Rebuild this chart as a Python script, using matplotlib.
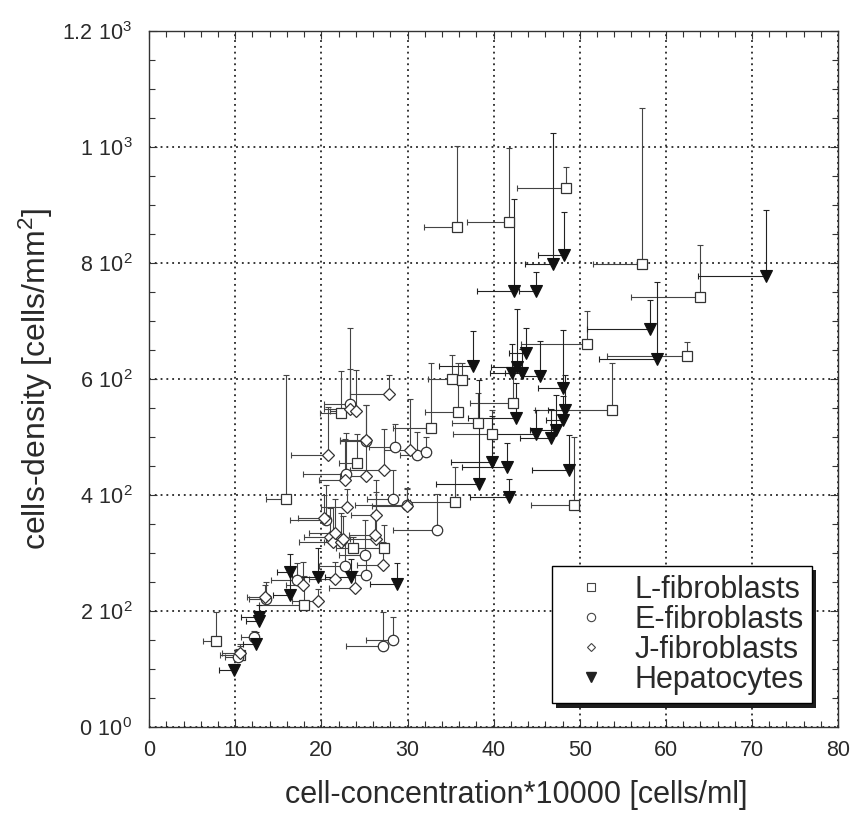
import matplotlib
matplotlib.use("Agg")
import matplotlib.pyplot as plt
import matplotlib.patheffects as pe
from matplotlib.ticker import MultipleLocator

plt.rcParams["font.family"] = ["Liberation Sans", "DejaVu Sans"]
plt.rcParams["mathtext.fontset"] = "custom"
plt.rcParams["mathtext.rm"] = "Liberation Sans"

# L-fibroblasts (open squares)
lx = [7.8, 10.5, 15.9, 18.0, 22.3, 24.1, 23.7, 27.3, 32.7, 35.2, 36.3, 35.9, 35.5,
      38.2, 42.3, 39.8, 35.8, 41.8, 48.4, 57.2, 64.0, 50.8, 62.4, 53.7, 49.3]
ly = [149, 124, 393, 210, 541, 455, 308, 308, 515, 600, 598, 544, 388,
      524, 558, 506, 862, 870, 930, 798, 741, 660, 640, 547, 383]
lxe = [1.6, 2.3, 2.3, 5.2, 2.5, 2.0, 2.0, 3.0, 4.4, 2.8, 1.5, 3.9, 5.2,
       3.0, 5.1, 4.5, 3.9, 4.9, 5.7, 5.7, 8.1, 7.6, 9.2, 8.9, 5.0]
lye = [50, 15, 214, 50, 73, 50, 20, 40, 112, 41, 30, 84, 60,
       52, 60, 40, 140, 129, 36, 270, 90, 58, 24, 80, 117]

# E-fibroblasts (open circles)
ex = [12.2, 10.3, 13.6, 17.2, 22.7, 25.2, 25.1, 20.5, 22.9, 23.3, 25.2, 28.5, 31.1,
      32.1, 28.3, 29.9, 33.4, 27.2, 28.3]
ey = [156, 120, 220, 253, 278, 262, 297, 357, 437, 557, 494, 482, 469,
      475, 394, 382, 339, 140, 150]
exe = [1.5, 1.5, 2.0, 3.0, 3.0, 2.0, 3.0, 4.2, 5.0, 3.0, 3.0, 3.0, 2.0,
       1.5, 3.0, 6.0, 5.1, 4.3, 3.1]
eye = [10, 15, 30, 30, 50, 30, 60, 60, 70, 60, 61, 40, 40,
       25, 50, 30, 62, 59, 40]

# J-fibroblasts (open diamonds)
jx = [10.5, 13.4, 17.9, 19.6, 21.6, 23.9, 27.1, 26.3, 21.0, 21.4, 22.3, 22.5, 21.6, 26.2,
      23.0, 26.4, 29.9, 20.3, 22.7, 25.2, 27.3, 20.8, 25.2, 30.3, 23.3, 24.0, 27.8]
jy = [128, 225, 245, 218, 255, 239, 279, 325, 328, 319, 319, 324, 334, 331,
      380, 366, 381, 360, 426, 432, 444, 469, 495, 478, 548, 545, 574]
jxe = [2.0, 2.0, 2.0, 3.0, 3.0, 3.0, 3.0, 3.0, 3.0, 4.0, 2.0, 2.0, 3.0, 3.0,
       3.0, 3.0, 4.0, 3.0, 3.0, 3.0, 4.0, 4.3, 3.0, 3.0, 3.0, 3.0, 4.5]
jye = [15, 20, 40, 20, 30, 30, 40, 80, 50, 60, 50, 40, 60, 40,
       30, 60, 30, 40, 70, 60, 70, 83, 60, 87, 140, 70, 33]

# Hepatocytes (filled down triangles)
hx = [9.9, 12.4, 12.7, 12.7, 16.4, 16.3, 19.6, 23.4, 28.8, 37.6, 42.7, 42.1, 43.3, 43.8,
      45.4, 48.1, 48.3, 48.1, 59.0, 42.6, 44.9, 47.2, 46.7, 38.3, 39.8, 41.6, 41.8, 48.7,
      46.9, 48.2, 42.4, 44.9, 71.6, 58.2]
hy = [98, 144, 190, 182, 228, 268, 259, 259, 246, 622, 621, 610, 611, 645,
      605, 584, 547, 530, 634, 533, 506, 512, 499, 419, 457, 449, 397, 444,
      799, 814, 752, 752, 778, 686]
hxe = [1.8, 1.5, 2.0, 1.5, 2.0, 1.5, 3.0, 3.0, 3.1, 4.0, 3.0, 2.5, 2.0, 2.0,
       2.0, 3.0, 2.0, 2.0, 6.8, 5.6, 5.0, 3.0, 3.6, 5.0, 4.7, 5.3, 4.6, 4.2,
       3.3, 3.1, 4.3, 2.0, 7.9, 7.4]
hye = [10, 20, 20, 15, 40, 30, 50, 30, 37, 60, 100, 50, 40, 43,
       60, 100, 60, 40, 133, 60, 40, 60, 50, 180, 80, 40, 30, 60,
       226, 74, 158, 32, 113, 51]

ytick_vals = [0, 200, 400, 600, 800, 1000, 1200]
ytick_labels = [r"$\mathregular{0\ 10^0}$", r"$\mathregular{2\ 10^2}$", r"$\mathregular{4\ 10^2}$",
                r"$\mathregular{6\ 10^2}$", r"$\mathregular{8\ 10^2}$", r"$\mathregular{1\ 10^3}$",
                r"$\mathregular{1.2\ 10^3}$"]

txt = "#2a2a2a"


def errbars(ax, x, y, xe, ye, color="#444444"):
    # one-sided bars: to the left and upward, with caps at the far end
    left = [a - b for a, b in zip(x, xe)]
    top = [a + b for a, b in zip(y, ye)]
    ax.hlines(y, left, x, color=color, lw=0.8, zorder=2)
    ax.vlines(x, y, top, color=color, lw=0.8, zorder=2)
    ax.plot(left, y, ls="none", marker="|", ms=5, mew=0.8, color=color, zorder=2)
    ax.plot(x, top, ls="none", marker="_", ms=5, mew=0.8, color=color, zorder=2)


fig = plt.figure(figsize=(8.57, 8.16), dpi=100)
ax = fig.add_axes([0.174, 0.109, 0.804, 0.853])

errbars(ax, lx, ly, lxe, lye)
errbars(ax, ex, ey, exe, eye)
errbars(ax, jx, jy, jxe, jye)
errbars(ax, hx, hy, hxe, hye, color="#222222")

ax.plot(lx, ly, ls="none", marker="s", ms=7.5, mfc="white", mec="#333333", mew=0.9, zorder=3)
ax.plot(ex, ey, ls="none", marker="o", ms=7.5, mfc="white", mec="#333333", mew=0.9, zorder=3)
ax.plot(jx, jy, ls="none", marker="D", ms=5.8, mfc="white", mec="#333333", mew=0.9, zorder=3)
ax.plot(hx, hy, ls="none", marker="v", ms=8.5, mfc="#111111", mec="#111111", mew=0.8, zorder=4)

# legend handles
hl, = ax.plot([], [], ls="none", marker="s", ms=6, mfc="white", mec="#444444", mew=0.8)
he, = ax.plot([], [], ls="none", marker="o", ms=6, mfc="white", mec="#444444", mew=0.8)
hj, = ax.plot([], [], ls="none", marker="D", ms=4.5, mfc="white", mec="#444444", mew=0.8)
hh, = ax.plot([], [], ls="none", marker="v", ms=6.5, mfc="#222222", mec="#222222")

ax.set_xlim(0, 80)
ax.set_ylim(0, 1200)
ax.xaxis.set_major_locator(MultipleLocator(10))
ax.xaxis.set_minor_locator(MultipleLocator(2))
ax.yaxis.set_minor_locator(MultipleLocator(50))
ax.set_yticks(ytick_vals)
ax.set_yticklabels(ytick_labels)
ax.tick_params(which="both", direction="in", top=True, right=True, colors="#333333",
               labelcolor=txt, labelsize=15.5)
ax.tick_params(which="major", length=6, width=0.8)
ax.tick_params(which="minor", length=4, width=0.8)
ax.tick_params(axis="y", pad=12)
ax.tick_params(axis="x", pad=9)
ax.grid(True, which="major", color="black", lw=1.1, ls=(0, (1.2, 2.6)))
ax.set_axisbelow(True)
for s in ax.spines.values():
    s.set_color("#333333")
    s.set_linewidth(1.0)

ax.set_xlabel("cell-concentration*10000 [cells/ml]", fontsize=22, color=txt)
ax.xaxis.set_label_coords(0.533, -0.076)
ax.set_ylabel(r"cells-density [cells/mm$\mathregular{^2}$]", fontsize=23, color=txt, labelpad=5)

leg = ax.legend([hl, he, hj, hh], ["L-fibroblasts", "E-fibroblasts", "J-fibroblasts", "Hepatocytes"],
                loc="lower right", bbox_to_anchor=(0.962, 0.034), borderaxespad=0,
                fontsize=22, frameon=True, fancybox=False, shadow=False,
                handletextpad=0.4, labelspacing=0.0, borderpad=0.28, handlelength=2.0)
frame = leg.get_frame()
frame.set_edgecolor("black")
frame.set_linewidth(1.0)
frame.set_alpha(1)
frame.set_path_effects([pe.SimplePatchShadow(offset=(3, -3), shadow_rgbFace="#111111", alpha=0.95),
                        pe.Normal()])
for t in leg.get_texts():
    t.set_color(txt)

fig.savefig("out.png", dpi=100)
